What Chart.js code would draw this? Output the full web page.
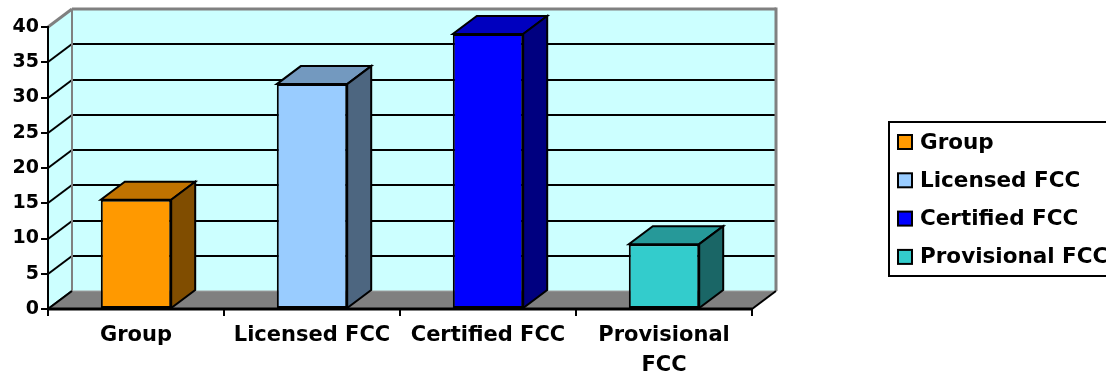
<!DOCTYPE html>
<html>
<head>
<meta charset="utf-8">
<title>FCC</title>
<script src="https://cdn.jsdelivr.net/npm/chart.js@4.4.0/dist/chart.umd.min.js"></script>
<style>
  html, body { margin: 0; padding: 0; background: #fff; }
</style>
</head>
<body>
<canvas id="fccChart" width="1106" height="375"></canvas>
<script>
// chart data
const categories = ['Group', 'Licensed FCC', 'Certified FCC', 'Provisional FCC'];
const tickLabels = ['Group', 'Licensed FCC', 'Certified FCC', ['Provisional', 'FCC']];
const counts = [15.5, 31.9, 39, 9.2];
const yMin = 0;
const yMax = 40;
const yStep = 5;

// face colours: front / top / side
const frontColors = ['#FF9900', '#99CCFF', '#0000FF', '#33CCCC'];
const topColors = ['#C07300', '#7399BF', '#0000BF', '#269999'];
const sideColors = ['#804D00', '#4D6680', '#000080', '#1A6666'];

const FONT = "'DejaVu Sans', Verdana, sans-serif";
const DX = 24;   // depth offset to the right
const DY = 18;   // depth offset upwards
const WALL = '#CCFFFF';
const FRAME = '#808080';

function poly(ctx, pts, fill, stroke, lw) {
    ctx.beginPath();
    ctx.moveTo(pts[0][0], pts[0][1]);
    for (let i = 1; i < pts.length; i++) ctx.lineTo(pts[i][0], pts[i][1]);
    ctx.closePath();
    if (fill) { ctx.fillStyle = fill; ctx.fill(); }
    if (stroke) { ctx.strokeStyle = stroke; ctx.lineWidth = lw || 2; ctx.stroke(); }
}

function line(ctx, x1, y1, x2, y2, color, lw) {
    ctx.beginPath();
    ctx.moveTo(x1, y1);
    ctx.lineTo(x2, y2);
    ctx.strokeStyle = color;
    ctx.lineWidth = lw;
    ctx.stroke();
}

// walls, gridlines and floor behind the columns
const walls3d = {
    id: 'walls3d',
    beforeDraw(chart) {
        const ctx = chart.ctx;
        const a = chart.chartArea;
        const y = chart.scales.y;
        const bx = a.left + DX, rx = a.right + DX;
        ctx.save();
        // left wall + back wall
        poly(ctx, [[a.left, a.top], [bx, a.top - DY], [bx, a.bottom - DY], [a.left, a.bottom]], WALL);
        ctx.fillStyle = WALL;
        ctx.fillRect(bx, a.top - DY, a.right - a.left, a.bottom - a.top);

        // gridlines: diagonal on the side wall, horizontal on the back wall
        y.ticks.forEach(t => {
            const py = Math.round(y.getPixelForValue(t.value));
            const top = t.value === yMax;
            const col = top ? FRAME : '#000';
            line(ctx, a.left, py, bx, py - DY, col, top ? 3 : 2);
            if (t.value !== yMin) line(ctx, bx, py - DY, rx, py - DY, col, top ? 3 : 2);
        });

        // wall frame
        line(ctx, bx, a.top - DY, bx, a.bottom - DY, FRAME, 2);
        line(ctx, rx, a.top - DY - 1.5, rx, a.bottom - DY, FRAME, 3);

        // floor
        const fy = Math.round(a.bottom);
        poly(ctx, [[a.left, fy], [a.right, fy], [rx, fy - DY], [bx, fy - DY]], FRAME);
        line(ctx, bx, fy - DY, rx, fy - DY, '#A0A0A0', 1);
        line(ctx, a.left, fy, bx, fy - DY, '#000', 2);
        line(ctx, a.right, fy, rx, fy - DY, '#000', 2);
        line(ctx, a.left, fy, a.right, fy, '#000', 3);
        ctx.restore();
    },
    afterDatasetsDraw(chart) {
        // top and side faces of each column
        const ctx = chart.ctx;
        const meta = chart.getDatasetMeta(0);
        ctx.save();
        ctx.lineJoin = 'miter';
        meta.data.forEach((bar, i) => {
            const p = bar.getProps(['x', 'y', 'base', 'width'], true);
            const x1 = p.x - p.width / 2, x2 = p.x + p.width / 2;
            const yt = p.y, yb = p.base;
            poly(ctx, [[x1, yt], [x2, yt], [x2 + DX, yt - DY], [x1 + DX, yt - DY]], topColors[i], '#000', 2);
            poly(ctx, [[x2, yt], [x2 + DX, yt - DY], [x2 + DX, yb - DY], [x2, yb]], sideColors[i], '#000', 2);
        });
        ctx.restore();
    },
    afterDraw(chart) {
        // legend box on the right
        const ctx = chart.ctx;
        ctx.save();
        ctx.lineWidth = 2;
        ctx.strokeStyle = '#000';
        ctx.strokeRect(889, 122, 240, 154);
        ctx.font = 'bold 21.5px ' + FONT;
        ctx.textBaseline = 'middle';
        ctx.textAlign = 'left';
        categories.forEach((c, i) => {
            const cy = 142 + i * 38.3;
            ctx.fillStyle = frontColors[i];
            ctx.fillRect(898, cy - 7, 14, 14);
            ctx.lineWidth = 2;
            ctx.strokeRect(898, cy - 7, 14, 14);
            ctx.fillStyle = '#000';
            ctx.fillText(c, 920, cy + 1);
        });
        ctx.restore();
    }
};

new Chart(document.getElementById('fccChart'), {
    type: 'bar',
    data: {
        labels: tickLabels,
        datasets: [{
            label: 'FCC',
            data: counts,
            backgroundColor: frontColors,
            borderColor: '#000',
            borderWidth: 2,
            borderSkipped: false,
            categoryPercentage: 1,
            barPercentage: 0.4
        }]
    },
    options: {
        responsive: false,
        animation: false,
        devicePixelRatio: 1,
        layout: { padding: { top: 27, right: 354, bottom: 0, left: 0 } },
        plugins: { legend: { display: false }, tooltip: { enabled: false } },
        scales: {
            x: {
                afterFit(scale) { scale.height = 66; },
                border: { display: false },
                grid: { offset: true, drawOnChartArea: false, tickLength: 7, color: '#000', lineWidth: 2 },
                ticks: { color: '#000', padding: 5, maxRotation: 0, autoSkip: false,
                         font: { family: FONT, size: 21, weight: 'bold', lineHeight: 1.43 } }
            },
            y: {
                min: yMin,
                max: yMax,
                afterFit(scale) { scale.width = 48; },
                border: { display: true, color: '#000', width: 2 },
                grid: { drawOnChartArea: false, tickLength: 7, color: '#000', lineWidth: 2 },
                ticks: { stepSize: yStep, color: '#000', padding: 2,
                         font: { family: FONT, size: 19, weight: 'bold' } }
            }
        }
    },
    plugins: [walls3d]
});
</script>
</body>
</html>
